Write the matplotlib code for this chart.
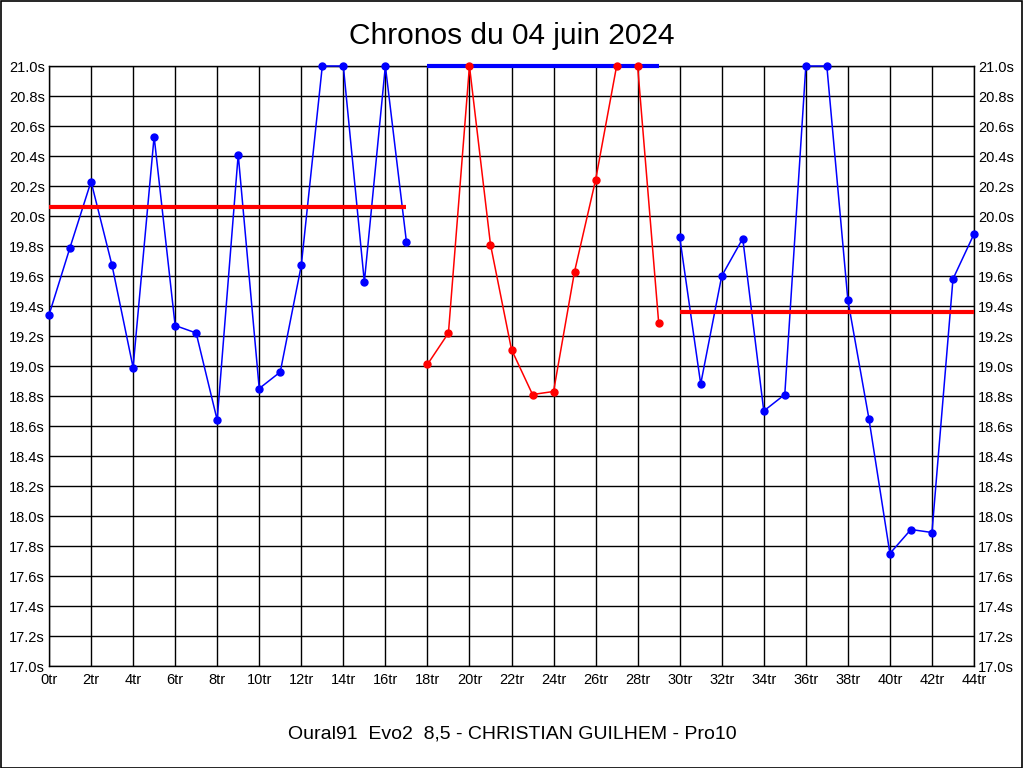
import numpy as np
import matplotlib
matplotlib.use('Agg')
from matplotlib import pyplot as plt
from matplotlib.patches import Rectangle

# chronos par tour (s), trois relais
laps_a = list(range(0, 18))
times_a = [19.34, 19.79, 20.23, 19.67, 18.99, 20.53, 19.27, 19.22, 18.64, 20.41,
           18.85, 18.96, 19.67, 21.0, 21.0, 19.56, 21.0, 19.83]
laps_b = list(range(18, 30))
times_b = [19.01, 19.22, 21.0, 19.81, 19.11, 18.81, 18.83, 19.63, 20.24, 21.0, 21.0, 19.29]
laps_c = list(range(30, 45))
times_c = [19.86, 18.88, 19.60, 19.85, 18.70, 18.81, 21.0, 21.0, 19.44, 18.65,
           17.75, 17.91, 17.89, 19.58, 19.88]

# moyennes de chaque relais
mean_a = 20.06
mean_b = 21.0
mean_c = 19.36

title = 'Chronos du 04 juin 2024'
footer = 'Oural91  Evo2  8,5 - CHRISTIAN GUILHEM - Pro10'
xticks = list(range(0, 45, 2))
xticklabels = ['%dtr' % v for v in xticks]
yticks = np.round(np.arange(17.0, 21.01, 0.2), 1)
yticklabels = ['%.1fs' % v for v in yticks]

plt.rcParams['font.family'] = ['Liberation Sans', 'DejaVu Sans']

fig = plt.figure(figsize=(10.24, 7.68), dpi=100)
fig.patches.append(Rectangle((0.0005, 0.0005), 0.998, 0.998, transform=fig.transFigure,
                             fill=False, edgecolor='black', linewidth=1.2))
ax = fig.add_axes([49 / 1024, 1 - 666 / 768, 925 / 1024, 600 / 768])

relais = [(laps_a, times_a, 'blue', mean_a, 'red'),
          (laps_b, times_b, 'red', mean_b, 'blue'),
          (laps_c, times_c, 'blue', mean_c, 'red')]
for laps, times, col, mean, mcol in relais:
    ax.plot(laps, times, color=col, lw=1.1, zorder=3, clip_on=False)
    ax.plot([laps[0], laps[-1]], [mean, mean], color=mcol, lw=3, zorder=4,
            clip_on=False, solid_capstyle='butt')
    ax.plot(laps, times, 'o', color=col, ms=5, zorder=5, clip_on=False)

ax.set_xlim(0, 44)
ax.set_ylim(17.0, 21.0)
ax.set_xticks(xticks)
ax.set_xticklabels(xticklabels)
ax.set_yticks(yticks)
ax.set_yticklabels(yticklabels)
ax.grid(True, color='black', lw=1)
ax.set_axisbelow(True)
ax.tick_params(axis='both', length=0, labelsize=10.5, pad=3)
ax.tick_params(axis='x', pad=5)
ax.tick_params(axis='y', right=True, labelright=True)
for s in ax.spines.values():
    s.set_linewidth(1)

fig.text(0.5, 1 - 36 / 768, title, ha='center', va='center', fontsize=21.5)
fig.text(0.5, 1 - 734 / 768, footer, ha='center', va='center', fontsize=14)

fig.savefig('out.png', dpi=100)
